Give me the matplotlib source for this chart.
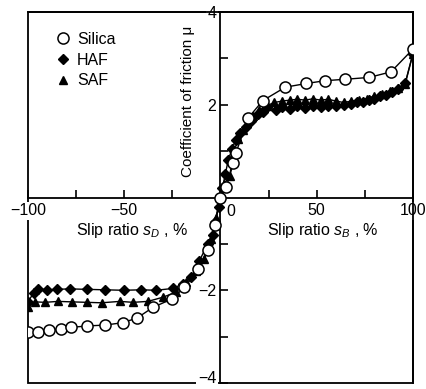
import matplotlib
matplotlib.use('Agg')
import matplotlib.pyplot as plt
from matplotlib.patches import Rectangle
from matplotlib.lines import Line2D

plt.rcParams['font.family'] = ['Liberation Sans', 'DejaVu Sans']
plt.rcParams['mathtext.fontset'] = 'custom'
plt.rcParams['mathtext.rm'] = 'Liberation Sans'
plt.rcParams['mathtext.it'] = 'Liberation Sans:italic'

# Silica (open circles)
silica_s = [-100, -94.7, -89, -83.1, -77.6, -69.3, -59.9, -50.9, -43.4, -35.1, -25.4, -18.7,
            -11.5, -6.6, -3, 0, 3, 6.7, 8, 14.5, 22, 33.7, 44.7, 54.4, 64.8, 77.2, 88.6, 100]
silica_mu = [-2.91, -2.89, -2.86, -2.83, -2.8, -2.77, -2.75, -2.7, -2.6, -2.37, -2.19, -1.94,
             -1.55, -1.13, -0.6, 0, 0.22, 0.74, 0.96, 1.72, 2.09, 2.38, 2.46, 2.52, 2.55, 2.59, 2.71, 3.2]

# HAF (filled diamonds)
haf_s = [-100, -97, -94.6, -90.3, -85.1, -78.2, -69.6, -60.1, -50.3, -41.1, -33.3, -24.7, -19.5,
         -15.2, -10.9, -6.6, -4, -2.6, -1, 0, 1, 2.5, 4, 6, 8, 10, 13.3, 16, 19.3, 22, 24.4, 28.9,
         32, 36, 40, 44, 48, 52, 56, 60, 64, 68, 71, 74, 77, 80, 83, 86, 89, 92, 96, 100]
haf_mu = [-2.25, -2.05, -1.97, -1.99, -1.98, -1.97, -1.98, -1.99, -2.0, -1.99, -2.0, -1.96, -1.86,
          -1.72, -1.36, -1.0, -0.8, -0.53, -0.2, 0, 0.2, 0.5, 0.8, 1.05, 1.25, 1.4, 1.52, 1.65, 1.8,
          1.85, 1.95, 1.88, 1.95, 1.92, 1.97, 1.93, 1.98, 1.95, 1.98, 1.97, 2.0, 2.02, 2.05, 2.07,
          2.1, 2.13, 2.18, 2.22, 2.27, 2.33, 2.47, 3.1]

# SAF (filled triangles)
saf_s = [-100, -96.4, -91.2, -84.3, -77.3, -69.6, -61.8, -52.3, -45.4, -37.7, -29.9, -23, -17.8,
         -12.6, -8.3, -5, -2.5, 0, 2, 4.7, 7, 9, 11.6, 14, 17, 20, 24, 28, 32, 36, 40, 44, 48, 52,
         56, 60, 64, 68, 72, 76, 80, 84, 88, 92, 96, 100]
saf_mu = [-2.35, -2.25, -2.26, -2.24, -2.25, -2.26, -2.27, -2.24, -2.26, -2.24, -2.15, -2.04, -1.83,
          -1.58, -1.32, -0.9, -0.45, 0, 0.3, 0.47, 0.95, 1.27, 1.45, 1.6, 1.75, 1.88, 1.98, 2.05,
          2.08, 2.1, 2.12, 2.1, 2.13, 2.1, 2.12, 2.08, 2.05, 2.08, 2.1, 2.13, 2.18, 2.23, 2.3, 2.37,
          2.45, 3.1]

fig = plt.figure(figsize=(4.27, 3.89), dpi=100)
ax = fig.add_axes([0.0656, 0.0154, 0.9014, 0.9536])

ax.plot(saf_s, saf_mu, color='black', lw=1.0, marker='^', ms=6, mfc='black', mec='black', zorder=3)
ax.plot(haf_s, haf_mu, color='black', lw=1.0, marker='D', ms=5, mfc='black', mec='black', zorder=4)
ax.plot(silica_s, silica_mu, color='black', lw=1.0, marker='o', ms=8, mfc='white', mec='black',
        mew=1.1, zorder=5)

ax.set_xlim(-100, 100)
ax.set_ylim(-4, 4)

# axes crossing at origin, outer frame drawn separately
ax.spines['left'].set_position('zero')
ax.spines['bottom'].set_position('zero')
for sp in ax.spines.values():
    sp.set_linewidth(1.3)
ax.add_patch(Rectangle((0, 0), 1, 1, transform=ax.transAxes, fill=False, lw=1.3,
                       ec='black', zorder=1, clip_on=False))

ax.set_xticks([-100, -50, 50, 100])
ax.set_xticklabels(['\u2212100', '\u221250', '50', '100'])
ax.set_xticks([-75, -25, 25, 75], minor=True)
ax.set_yticks([-4, -2, 2, 4])
ax.set_yticklabels(['\u22124', '\u22122', '2', '4'])
ax.set_yticks([-3, -1, 1, 3], minor=True)
ax.tick_params(which='both', direction='in', length=6, width=1.2, labelsize=11.5, pad=4)
ax.tick_params(axis='y', pad=3)

for lbl in ax.get_xticklabels() + ax.get_yticklabels():
    lbl.set_bbox(dict(facecolor='white', edgecolor='none', pad=1.0))
# lowest label sits on the frame, lift it so it stays inside the picture
ax.get_yticklabels()[0].set_va('baseline')

ax.annotate('0', xy=(0, 0), xytext=(7.5, -5), textcoords='offset points',
            ha='center', va='top', fontsize=11.5)

ax.text(-46, -0.72, r'Slip ratio $s_D$ , %', ha='center', va='center', fontsize=11.5)
ax.text(53, -0.72, r'Slip ratio $s_B$ , %', ha='center', va='center', fontsize=11.5)
ax.text(-17, 2.07, 'Coefficient of friction \u03bc', rotation=90, ha='center', va='center',
        fontsize=11)

handles = [
    Line2D([], [], ls='none', marker='o', ms=8, mfc='white', mec='black', mew=1.1),
    Line2D([], [], ls='none', marker='D', ms=5, mfc='black', mec='black'),
    Line2D([], [], ls='none', marker='^', ms=6, mfc='black', mec='black'),
]
ax.legend(handles, ['Silica', 'HAF', 'SAF'], loc='upper left', bbox_to_anchor=(0.032, 0.985),
          frameon=False, fontsize=11.5, handlelength=1.0, handletextpad=0.4, labelspacing=0.35)

plt.savefig('out.png', dpi=100)
